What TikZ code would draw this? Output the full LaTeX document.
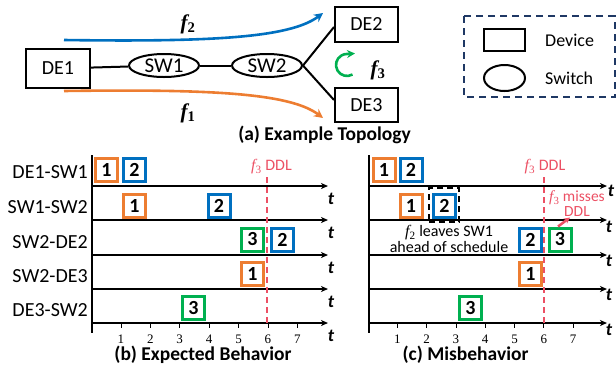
\documentclass[tikz,border=0pt]{standalone}
\usepackage{fontspec}
\setmainfont{Carlito}
\newfontfamily\tnr{Liberation Serif}
\usetikzlibrary{arrows.meta,shapes.geometric}

\definecolor{forange}{RGB}{237,125,49}
\definecolor{fblue}{RGB}{0,112,192}
\definecolor{fgreen}{RGB}{0,176,80}
\definecolor{ddlred}{RGB}{236,80,100}
\definecolor{legnavy}{RGB}{31,56,100}

% flow names: bold (topology) and plain (timelines)
\newcommand\flowb[1]{{\tnr\bfseries\itshape f}\textsubscript{\tnr\bfseries #1}}
\newcommand\flowi[1]{{\tnr\itshape f}\textsubscript{\tnr #1}}
\newcommand\sz[1]{\fontsize{#1}{#1}\selectfont}

\tikzset{
  dev/.style={draw, line width=2pt, inner sep=0pt, font=\sz{20}},
  swnode/.style={draw, ellipse, line width=2pt, inner sep=0pt,
                 minimum width=70pt, minimum height=23pt},
  link/.style={line width=2pt},
  flowarrow/.style={line width=2.6pt, -{Stealth[length=9pt,width=9pt]}},
  pkt/.style={draw=#1, line width=3pt, inner sep=0pt, minimum width=22pt,
              minimum height=23pt, font=\sz{20}\bfseries, fill=white, text=black},
  rowlab/.style={anchor=east, font=\sz{20}, inner sep=0pt},
  timeaxis/.style={line width=1.6pt, -{Stealth[length=7pt,width=6pt,inset=2pt]}},
  vaxis/.style={line width=1.6pt},
  tlab/.style={font=\sz{18}\bfseries\itshape, inner sep=0pt},
  ticklab/.style={font=\tnr\sz{13}, inner sep=0pt},
  ddlline/.style={ddlred, line width=1.5pt, dash pattern=on 6pt off 4pt},
  ddllab/.style={ddlred, font=\sz{16}, inner sep=0pt},
  caption/.style={font=\sz{19.5}\bfseries, inner sep=0pt},
}

\begin{document}
\begin{tikzpicture}[x=1pt,y=-1pt]
\useasboundingbox (0,0) rectangle (616,368);

% ---------------- (a) topology ----------------
\node[dev, minimum width=64pt, minimum height=39pt] (de1) at (58,68.5) {DE1};
\node[swnode, label={center:{\sz{21}SW1}}] (sw1) at (164,65.5) {};
\node[swnode, label={center:{\sz{21}SW2}}] (sw2) at (267,65.5) {};
\node[dev, minimum width=63pt, minimum height=35pt] (de2) at (366.5,24.5) {DE2};
\node[dev, minimum width=63pt, minimum height=34pt] (de3) at (366.5,105) {DE3};

\draw[link] (de1) -- (sw1);
\draw[link] (sw1) -- (sw2);
\draw[link] (sw2.east) -- ([yshift=-2.5pt]de2.west);
\draw[link] (sw2.east) -- ([yshift=5pt]de3.west);

% flows
\coordinate (f2s) at (64,40);
\coordinate (f2e) at (323,13);
\coordinate (f1s) at (64,91);
\coordinate (f1e) at (323,118);
\draw[flowarrow, fblue] (f2s) .. controls (210,42) and (290,38) .. (f2e);
\draw[flowarrow, forange] (f1s) .. controls (210,89) and (290,93) .. (f1e);
\node[font=\sz{21}] (lf2) at (188,24) {\flowb{2}};
\node[font=\sz{21}] (lf1) at (188,113) {\flowb{1}};

\coordinate (f3s) at (352.5,74.5);
\draw[fgreen, line width=2.6pt, -{Stealth[length=8pt,width=8pt]}]
  (f3s) arc[start angle=60, end angle=270, radius=11] -- ++(8,-0.5);
\node[font=\sz{21}] (lf3) at (378,70) {\flowb{3}};

% legend
\draw[legnavy, line width=2pt, dash pattern=on 7pt off 5pt] (464,16) rectangle (614.5,97);
\node[draw, line width=2pt, minimum width=41pt, minimum height=22pt, inner sep=0pt] (legdev) at (504.5,40) {};
\node[draw, ellipse, line width=2pt, minimum width=41pt, minimum height=26pt, inner sep=0pt] (legsw) at (504.5,78) {};
\node[anchor=west, font=\sz{18}, inner sep=0pt] (legdevt) at (545,40) {Device};
\node[anchor=west, font=\sz{18}, inner sep=0pt] (legswt) at (545,78) {Switch};

\node[caption] (capa) at (324.5,135) {(a) Example Topology};

% ---------------- (b) expected behaviour ----------------
\foreach \n/\y in {1/186, 2/220, 3/255, 4/289, 5/323}{
  \coordinate (bs\n) at (92,\y);
  \coordinate (be\n) at (328,\y);
  \draw[timeaxis] (bs\n) -- (be\n);
  \node[tlab] (bt\n) at (331,\y+13) {t};
}
\node[rowlab] (r1) at (88,172) {DE1-SW1};
\node[rowlab] (r2) at (88,207) {SW1-SW2};
\node[rowlab] (r3) at (88,242) {SW2-DE2};
\node[rowlab] (r4) at (88,276) {SW2-DE3};
\node[rowlab] (r5) at (88,310) {DE3-SW2};

\coordinate (bvt) at (92,155);
\coordinate (bvb) at (92,333);
\draw[vaxis] (bvt) -- (bvb);
\foreach \k in {1,...,7}{
  \coordinate (btk\k) at (91.5+29.4*\k,323);
  \draw[line width=0.8pt] (btk\k) -- ++(0,5);
  \node[ticklab] (btl\k) at (91.5+29.4*\k,339) {\k};
}

\coordinate (bdt) at (267,177);
\coordinate (bdb) at (267,323);
\draw[ddlline] (bdt) -- (bdb);
\node[ddllab] (bddl) at (271.5,167) {\flowi{3} DDL};

\node[pkt=forange] (b11) at (106.5,170) {1};
\node[pkt=fblue]   (b12) at (134.5,170) {2};
\node[pkt=forange] (b21) at (134.5,205.5) {1};
\node[pkt=fblue]   (b22) at (219,205.5) {2};
\node[pkt=fgreen]  (b33) at (252.5,239.5) {3};
\node[pkt=fblue]   (b32) at (282.5,239.5) {2};
\node[pkt=forange] (b41) at (252.5,273.5) {1};
\node[pkt=fgreen]  (b53) at (193.5,308) {3};

\node[caption] (capb) at (203,355) {(b) Expected Behavior};

% ---------------- (c) misbehaviour ----------------
\foreach \n/\y in {1/186, 2/220, 3/255, 4/289, 5/323}{
  \coordinate (cs\n) at (369,\y);
  \coordinate (ce\n) at (607,\y);
  \draw[timeaxis] (cs\n) -- (ce\n);
}
\node[tlab] (ct1) at (611,191) {t};
\node[tlab] (ct2) at (609,227) {t};
\node[tlab] (ct3) at (609,261) {t};
\node[tlab] (ct4) at (609,295) {t};
\node[tlab] (ct5) at (609,330) {t};

\coordinate (cvt) at (369,155);
\coordinate (cvb) at (369,333);
\draw[vaxis] (cvt) -- (cvb);
\foreach \k in {1,...,7}{
  \coordinate (ctk\k) at (368+29.3*\k,323);
  \draw[line width=0.8pt] (ctk\k) -- ++(0,5);
  \node[ticklab] (ctl\k) at (368+29.3*\k,339) {\k};
}

\coordinate (cdt) at (544,177);
\coordinate (cdb) at (544,323);
\draw[ddlline] (cdt) -- (cdb);
\node[ddllab] (cddl) at (545,167) {\flowi{3} DDL};

\node[pkt=forange] (c11) at (384,170) {1};
\node[pkt=fblue]   (c12) at (411,170) {2};
\node[pkt=forange] (c21) at (411,205.5) {1};
\node[draw, line width=2.5pt, dash pattern=on 6pt off 4pt, minimum width=30pt,
      minimum height=34pt, inner sep=0pt] (early) at (444,205) {};
\node[pkt=fblue]   (c22) at (444.5,205.5) {2};
\node[pkt=fblue]   (c32) at (530.5,239.5) {2};
\node[pkt=fgreen]  (c33) at (560,239.5) {3};
\node[pkt=forange] (c41) at (530.5,273.5) {1};
\node[pkt=fgreen]  (c53) at (470.5,308) {3};

\node[font=\sz{16}, align=center, inner sep=0pt,
      execute at begin node={\setlength{\baselineskip}{16pt}}] (note) at (449,239)
  {\flowi{2} leaves SW1\\ahead of schedule};

\node[ddllab, font=\sz{15.5}, align=center,
      execute at begin node={\setlength{\baselineskip}{15pt}}]
  (miss) at (577,204) {\flowi{3} misses\\DDL};
\coordinate (missto) at (570,217.5);
\draw[ddlred, line width=2.5pt, -{Stealth[length=6pt,width=6pt]}] ([xshift=-2pt]c33.north) -- (missto);

\node[caption] (capc) at (465.5,355) {(c) Misbehavior};
\end{tikzpicture}
\end{document}
